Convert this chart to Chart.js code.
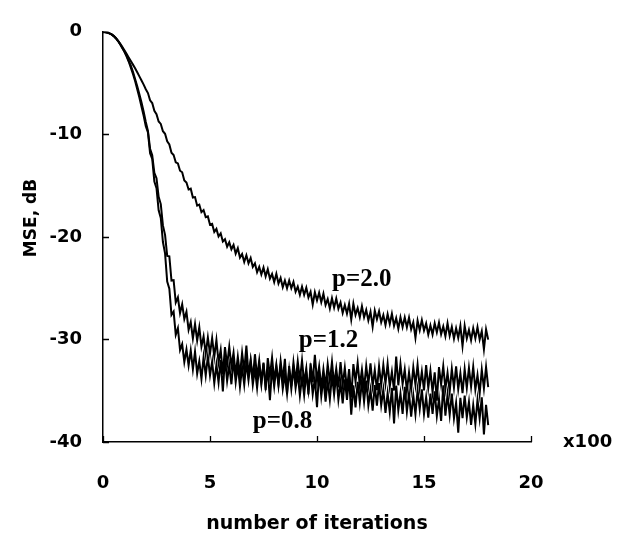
<!DOCTYPE html>
<html>
<head>
<meta charset="utf-8">
<script src="https://cdn.jsdelivr.net/npm/chart.js@4.4.1/dist/chart.umd.min.js"></script>
<style>
html,body{margin:0;padding:0;background:#fff;}
#wrap{width:618px;height:538px;position:relative;}
</style>
</head>
<body>
<div id="wrap"><canvas id="c" width="618" height="538"></canvas></div>
<script>
// number of iterations (x100)
const iterations = [
0,
0.1,0.2,0.3,0.4,0.5,0.6,0.7,0.8,0.9,1.0,
1.1,1.2,1.3,1.4,1.5,1.6,1.7,1.8,1.9,2.0,
2.1,2.2,2.3,2.4,2.5,2.6,2.7,2.8,2.9,3.0,
3.1,3.2,3.3,3.4,3.5,3.6,3.7,3.8,3.9,4.0,
4.1,4.2,4.3,4.4,4.5,4.6,4.7,4.8,4.9,5.0,
5.1,5.2,5.3,5.4,5.5,5.6,5.7,5.8,5.9,6.0,
6.1,6.2,6.3,6.4,6.5,6.6,6.7,6.8,6.9,7.0,
7.1,7.2,7.3,7.4,7.5,7.6,7.7,7.8,7.9,8.0,
8.1,8.2,8.3,8.4,8.5,8.6,8.7,8.8,8.9,9.0,
9.1,9.2,9.3,9.4,9.5,9.6,9.7,9.8,9.9,10.0,
10.1,10.2,10.3,10.4,10.5,10.6,10.7,10.8,10.9,11.0,
11.1,11.2,11.3,11.4,11.5,11.6,11.7,11.8,11.9,12.0,
12.1,12.2,12.3,12.4,12.5,12.6,12.7,12.8,12.9,13.0,
13.1,13.2,13.3,13.4,13.5,13.6,13.7,13.8,13.9,14.0,
14.1,14.2,14.3,14.4,14.5,14.6,14.7,14.8,14.9,15.0,
15.1,15.2,15.3,15.4,15.5,15.6,15.7,15.8,15.9,16.0,
16.1,16.2,16.3,16.4,16.5,16.6,16.7,16.8,16.9,17.0,
17.1,17.2,17.3,17.4,17.5,17.6,17.7,17.8,17.9,18.0
];

// MSE (dB), p = 2.0
const mseP20 = [
0, -0.02, -0.07, -0.15, -0.26, -0.4, -0.6, -0.85, -1.15, -1.45, -1.8,
-2.15, -2.5, -2.85, -3.2, -3.55, -3.95, -4.35, -4.75, -5.15, -5.6,
-5.97, -6.68, -6.95, -7.71, -8.04, -8.75, -8.98, -9.69, -9.95, -10.68,
-10.98, -11.8, -12.02, -12.73, -12.84, -13.55, -13.7, -14.49, -14.7, -15.38,
-15.3, -16.16, -16.12, -16.95, -16.85, -17.59, -17.38, -18.07, -18.0, -18.81,
-18.73, -19.52, -19.22, -19.96, -19.65, -20.45, -20.23, -20.95, -20.52, -21.21,
-20.79, -21.63, -21.1, -22.02, -21.67, -22.45, -21.79, -22.57, -22.05, -22.93,
-22.58, -23.45, -22.92, -23.66, -22.99, -23.86, -23.15, -24.07, -23.62, -24.41,
-23.6, -24.55, -24.0, -24.9, -24.25, -25.0, -24.25, -25.0, -24.4, -25.35,
-24.85, -25.65, -24.85, -25.65, -24.95, -25.9, -25.35, -26.6, -25.4, -26.2,
-25.44, -26.36, -25.54, -26.64, -26.06, -26.98, -25.98, -26.9, -26.02, -27.0,
-26.4, -27.42, -26.64, -27.48, -26.52, -28.06, -26.52, -27.6, -26.94, -27.84,
-26.76, -27.84, -27.12, -28.14, -27.3, -28.76, -27.18, -28.02, -27.24, -28.32,
-27.62, -28.59, -27.53, -28.49, -27.5, -28.66, -27.92, -28.95, -27.83, -28.79,
-27.85, -28.81, -27.87, -29.02, -28.34, -29.84, -28.16, -29.11, -28.11, -29.13,
-28.44, -29.51, -28.63, -29.51, -28.43, -29.31, -28.36, -29.5, -28.74, -29.69,
-28.43, -29.65, -28.77, -29.92, -28.9, -29.84, -28.68, -30.64, -28.67, -29.89,
-29.07, -30.07, -28.9, -29.9, -28.8, -30.01, -29.19, -30.96, -29.02, -30.02
];

// MSE (dB), p = 1.2
const mseP12 = [
0, -0.02, -0.07, -0.15, -0.26, -0.42, -0.62, -0.88, -1.2, -1.55, -1.9,
-2.3, -2.8, -3.3, -3.9, -4.6, -5.3, -6.1, -6.9, -7.8, -8.8,
-9.66, -11.4, -12.04, -13.76, -14.28, -16.1, -16.8, -18.88, -19.8, -21.86,
-21.9, -24.26, -24.22, -26.4, -25.9, -27.44, -26.58, -28.02, -27.3, -29.06,
-28.3, -29.9, -28.5, -30.1, -28.8, -30.7, -29.7, -31.4, -29.8, -31.4,
-29.87, -31.7, -30.05, -32.24, -31.02, -33.4, -30.74, -32.52, -30.7, -32.6,
-31.29, -33.44, -31.69, -33.45, -31.31, -33.07, -30.59, -33.47, -31.98, -33.87,
-31.44, -33.69, -32.04, -34.16, -32.25, -34.94, -31.81, -33.54, -31.76, -34.01,
-32.47, -34.31, -32.12, -33.96, -31.9, -35.32, -32.59, -34.56, -32.24, -34.08,
-32.14, -33.97, -32.03, -34.25, -32.83, -35.36, -32.33, -34.16, -31.49, -34.05,
-32.63, -34.72, -32.91, -34.61, -32.41, -34.11, -32.17, -34.39, -32.84, -34.67,
-32.21, -34.43, -32.75, -34.84, -32.9, -35.66, -32.4, -34.1, -32.29, -34.51,
-32.95, -34.77, -32.57, -34.39, -32.32, -34.54, -32.98, -34.94, -32.6, -34.43,
-32.48, -34.3, -32.36, -34.58, -33.15, -34.98, -31.66, -34.47, -32.39, -34.35,
-32.93, -35.02, -33.21, -34.91, -32.71, -34.41, -32.47, -34.69, -33.14, -34.97,
-32.51, -34.73, -33.05, -35.15, -33.2, -35.96, -32.7, -34.4, -32.59, -34.81,
-33.26, -35.08, -32.87, -34.7, -32.63, -34.84, -33.28, -35.24, -32.9, -34.73,
-32.78, -34.61, -32.67, -34.89, -33.46, -35.3, -32.95, -34.77, -32.69, -34.65
];

// MSE (dB), p = 0.8
const mseP08 = [
0, -0.02, -0.07, -0.15, -0.26, -0.42, -0.62, -0.9, -1.22, -1.57, -1.95,
-2.4, -2.9, -3.5, -4.1, -4.8, -5.6, -6.4, -7.3, -8.2, -9.2,
-9.8, -11.85, -12.4, -14.6, -15.25, -17.4, -18.15, -20.5, -21.6, -24.35,
-25.05, -27.61, -27.28, -29.54, -28.9, -31.03, -30.45, -32.2, -30.98, -32.54,
-31.07, -32.9, -31.2, -33.34, -32.12, -33.85, -31.74, -33.52, -31.65, -33.5,
-32.15, -34.26, -32.47, -34.19, -32.01, -35.08, -31.81, -34.05, -32.52, -34.37,
-31.93, -34.17, -32.51, -34.62, -32.7, -34.42, -32.24, -33.96, -32.17, -34.41,
-32.88, -34.73, -32.55, -34.37, -32.35, -34.49, -32.97, -35.92, -32.77, -34.58,
-32.66, -34.51, -32.59, -34.83, -33.43, -35.28, -32.97, -34.82, -32.77, -34.75,
-33.36, -35.48, -33.7, -35.43, -33.26, -34.99, -33.08, -35.33, -33.81, -36.6,
-33.14, -35.56, -33.78, -36.06, -34.0, -35.86, -33.52, -35.38, -33.46, -35.88,
-34.24, -36.24, -33.9, -35.9, -33.7, -37.34, -34.48, -36.62, -34.14, -36.14,
-34.08, -36.08, -34.02, -36.44, -34.94, -36.94, -34.46, -36.46, -34.26, -36.4,
-34.89, -37.16, -35.23, -37.08, -34.73, -38.18, -34.51, -36.92, -35.27, -37.26,
-34.63, -37.04, -35.25, -37.52, -35.45, -37.3, -34.95, -36.8, -34.87, -37.28,
-35.63, -37.62, -35.27, -37.26, -35.05, -37.46, -35.81, -37.94, -34.47, -37.44,
-35.37, -37.36, -35.29, -37.7, -36.19, -39.08, -35.69, -37.68, -35.47, -37.6,
-36.08, -38.34, -36.4, -38.24, -35.88, -37.72, -35.64, -39.26, -36.38, -38.36
];

const seriesNames = ["p=2.0", "p=1.2", "p=0.8"];
const xTickValues = [0, 5, 10, 15, 20];
const yTickValues = [0, -10, -20, -30, -40];
// label anchor points (data units) for curve labels
const labelAnchorX = [10.7, 9.15, 7.0];
const labelAnchorY = [-24.8, -30.7, -38.6];

function toPoints(ys) {
  return ys.map((v, i) => ({x: iterations[i], y: v}));
}

const tickFont = {family: "DejaVu Sans", weight: "bold", size: 18};

const annotations = {
  id: 'annotations',
  afterDraw(chart) {
    const {ctx, chartArea, scales} = chart;
    const xs = scales.x, ys = scales.y;
    ctx.save();
    ctx.strokeStyle = '#000';
    ctx.lineWidth = 1.3;
    ctx.beginPath();
    yTickValues.forEach(v => {
      const py = Math.round(ys.getPixelForValue(v)) + 0.5;
      ctx.moveTo(chartArea.left, py);
      ctx.lineTo(chartArea.left + 6, py);
    });
    xTickValues.forEach(v => {
      const px = Math.round(xs.getPixelForValue(v)) + 0.5;
      ctx.moveTo(px, chartArea.bottom);
      ctx.lineTo(px, chartArea.bottom - 6);
    });
    ctx.stroke();

    // curve labels
    ctx.fillStyle = '#000';
    ctx.font = 'bold 25px "Liberation Serif"';
    ctx.textAlign = 'left';
    ctx.textBaseline = 'alphabetic';
    seriesNames.forEach((name, i) => {
      ctx.fillText(name, xs.getPixelForValue(labelAnchorX[i]), ys.getPixelForValue(labelAnchorY[i]));
    });

    // x100 multiplier
    ctx.font = 'bold 18px "DejaVu Sans"';
    ctx.textBaseline = 'middle';
    ctx.fillText('x100', chartArea.right + 32, chartArea.bottom);

    // y axis title
    ctx.save();
    ctx.translate(32, 218);
    ctx.rotate(-Math.PI / 2);
    ctx.textAlign = 'center';
    ctx.textBaseline = 'middle';
    ctx.font = 'bold 17px "DejaVu Sans"';
    ctx.fillText('MSE, dB', 0, 0);
    ctx.restore();
    ctx.restore();
  }
};

const lineStyle = {
  borderColor: '#000',
  borderWidth: 2,
  pointRadius: 0,
  tension: 0,
  fill: false
};

new Chart(document.getElementById('c'), {
  type: 'line',
  data: {
    datasets: [
      Object.assign({label: seriesNames[0], data: toPoints(mseP20)}, lineStyle),
      Object.assign({label: seriesNames[1], data: toPoints(mseP12)}, lineStyle),
      Object.assign({label: seriesNames[2], data: toPoints(mseP08)}, lineStyle)
    ]
  },
  options: {
    responsive: false,
    animation: false,
    devicePixelRatio: 1,
    layout: {padding: {top: 20, right: 87, left: 0, bottom: 0}},
    plugins: {legend: {display: false}, tooltip: {enabled: false}},
    scales: {
      x: {
        type: 'linear',
        min: 0, max: 20,
        afterBuildTicks(s) { s.ticks = xTickValues.map(v => ({value: v})); },
        afterFit(s) { s.height = 96; },
        grid: {display: false, drawTicks: false},
        border: {display: true, color: '#000', width: 1.5},
        ticks: {color: '#000', font: tickFont, padding: 31, maxRotation: 0},
        title: {display: true, text: 'number of iterations', color: '#000',
                font: {family: "DejaVu Sans", weight: 'bold', size: 19}, padding: {top: 0, bottom: 3}}
      },
      y: {
        type: 'linear',
        min: -40, max: 0,
        afterBuildTicks(s) { s.ticks = yTickValues.map(v => ({value: v})); },
        afterFit(s) { s.width = 103; },
        grid: {display: false, drawTicks: false},
        border: {display: true, color: '#000', width: 1.5},
        ticks: {color: '#000', font: tickFont, padding: 21}
      }
    }
  },
  plugins: [annotations]
});
</script>
</body>
</html>
